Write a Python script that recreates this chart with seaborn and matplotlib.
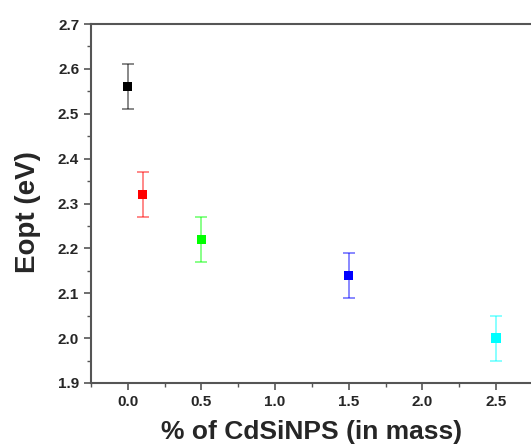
import matplotlib
matplotlib.use("Agg")
import matplotlib.pyplot as plt
import seaborn as sns
import pandas as pd
from matplotlib.ticker import MultipleLocator

sns.set_style("white")
plt.rcParams['font.family'] = ['Liberation Sans', 'DejaVu Sans']

mass_pct = [0.0, 0.1, 0.5, 1.5, 2.5]
eopt = [2.56, 2.32, 2.22, 2.14, 2.00]
err = [0.05, 0.05, 0.05, 0.05, 0.05]
colors = ['#000000', '#ff0000', '#00ff00', '#0000ff', '#00ffff']
labels = ['a', 'b', 'c', 'd', 'e']

df = pd.DataFrame({'x': mass_pct, 'y': eopt, 'err': err, 'lab': labels})

fig = plt.figure(figsize=(5.31, 4.48), dpi=100)
ax = fig.add_axes([0.1714, 0.1451, 0.832, 0.8013])

for xi, yi, ei, c in zip(mass_pct, eopt, err, colors):
    ax.errorbar(xi, yi, yerr=ei, fmt='none', ecolor=c, alpha=0.5,
                elinewidth=1.3, capsize=4, capthick=1.3, zorder=2)

sns.scatterplot(data=df, x='x', y='y', hue='lab', palette=colors,
                marker='s', s=45, edgecolor='none', legend=False, ax=ax, zorder=3)

ax.set_xlim(-0.25, 2.75)
ax.set_ylim(1.9, 2.7)
ax.xaxis.set_major_locator(MultipleLocator(0.5))
ax.xaxis.set_minor_locator(MultipleLocator(0.25))
ax.yaxis.set_major_locator(MultipleLocator(0.1))
ax.yaxis.set_minor_locator(MultipleLocator(0.05))
ax.xaxis.set_major_formatter(plt.FormatStrFormatter('%.1f'))
ax.yaxis.set_major_formatter(plt.FormatStrFormatter('%.1f'))

for sp in ax.spines.values():
    sp.set_color('#555555')
    sp.set_linewidth(1.5)

ax.tick_params(axis='both', which='major', direction='out', length=5, width=1.2,
               color='#555555', labelsize=11, bottom=True, left=True)
ax.tick_params(axis='both', which='minor', direction='out', length=3, width=1.0,
               color='#555555', bottom=True, left=True)
for lab in ax.get_xticklabels() + ax.get_yticklabels():
    lab.set_fontweight('bold')

ax.set_xlabel('% of CdSiNPS (in mass)', fontsize=19, fontweight='bold', labelpad=8)
ax.set_ylabel('Eopt (eV)', fontsize=20, fontweight='bold')
ax.yaxis.set_label_coords(-0.113, 0.475)

fig.savefig('out.png', dpi=100)
